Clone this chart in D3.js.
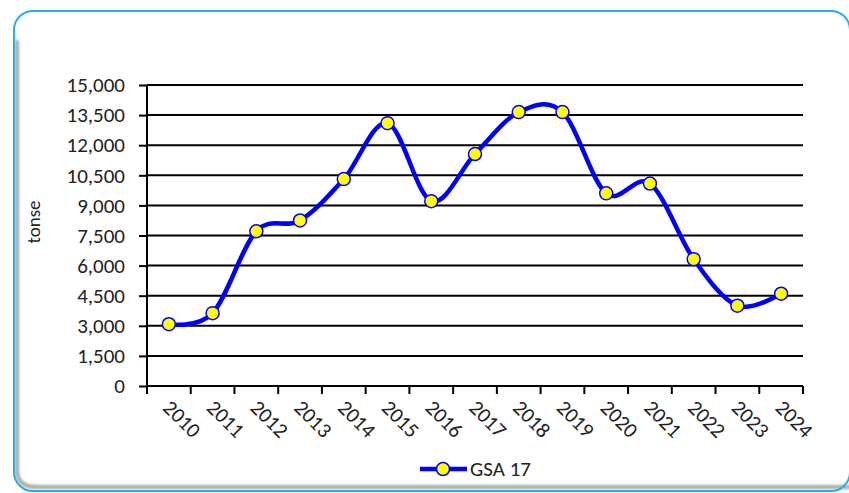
<!DOCTYPE html>
<html>
<head>
<meta charset="utf-8">
<script src="https://cdn.jsdelivr.net/npm/d3@7"></script>
<style>
  html, body { margin: 0; padding: 0; background: #fff; }
  svg { display: block; }
  text { font-family: Carlito, Calibri, "Liberation Sans", Arial, sans-serif; fill: #222; }
</style>
</head>
<body>
<div id="chart"></div>
<script>
// chart data
const years = ["2010", "2011", "2012", "2013", "2014", "2015", "2016", "2017",
    "2018", "2019", "2020", "2021", "2022", "2023", "2024"];
const gsa17 = [3080, 3630, 7710, 8250, 10310, 13100, 9210, 11560,
    13650, 13650, 9600, 10090, 6320, 4000, 4600];
const yTicks = [0, 1500, 3000, 4500, 6000, 7500, 9000, 10500, 12000, 13500, 15000];
const seriesName = "GSA 17";
const yTitle = "tonse";

const W = 849, H = 493;
const plot = { left: 147, right: 803, top: 85, bottom: 386 };

const svg = d3.select("#chart").append("svg")
    .attr("width", W)
    .attr("height", H);

// inner shadow blur for the frame
const defs = svg.append("defs");
defs.append("filter").attr("id", "blur")
    .attr("x", "-10%").attr("y", "-10%").attr("width", "120%").attr("height", "120%")
    .append("feGaussianBlur").attr("stdDeviation", 1.6);

// frame: gray inner shadow on left + bottom, then blue rounded border
svg.append("path")
    .attr("d", "M17,40 L17,470 Q17,487 36,487 L852,487")
    .attr("fill", "none")
    .attr("stroke", "#9a9a9a")
    .attr("stroke-width", 3.5)
    .attr("filter", "url(#blur)");

svg.append("rect")
    .attr("x", 14).attr("y", 11)
    .attr("width", 836).attr("height", 480)
    .attr("rx", 19).attr("ry", 19)
    .attr("fill", "none")
    .attr("stroke", "#27aee6")
    .attr("stroke-width", 2);

// scales
const x = d3.scaleBand()
    .domain(years)
    .range([plot.left, plot.right])
    .paddingInner(0).paddingOuter(0);

const y = d3.scaleLinear()
    .domain([0, 15000])
    .range([plot.bottom, plot.top]);

const cx = d => x(d) + x.bandwidth() / 2;

// horizontal gridlines
svg.append("g")
    .selectAll("line")
    .data(yTicks.filter(v => v > 0))
    .join("line")
    .attr("x1", plot.left).attr("x2", plot.right)
    .attr("y1", d => y(d)).attr("y2", d => y(d))
    .attr("stroke", "#000")
    .attr("stroke-width", 2);

// y axis
const yAxis = svg.append("g")
    .attr("transform", "translate(" + plot.left + ",0)")
    .call(d3.axisLeft(y)
        .tickValues(yTicks)
        .tickFormat(d3.format(","))
        .tickSize(8)
        .tickPadding(14));
yAxis.select(".domain")
    .attr("stroke", "#000").attr("stroke-width", 2)
    .attr("d", "M0," + plot.bottom + "V" + plot.top);
yAxis.selectAll(".tick line").attr("stroke", "#000").attr("stroke-width", 2);
yAxis.selectAll(".tick text")
    .attr("font-size", 21)
    .attr("fill", "#222")
    .style("font-family", "Carlito, Calibri, 'Liberation Sans', Arial, sans-serif");

// x axis: line + ticks at category boundaries
const xg = svg.append("g");
xg.append("line")
    .attr("x1", plot.left).attr("x2", plot.right)
    .attr("y1", plot.bottom).attr("y2", plot.bottom)
    .attr("stroke", "#000").attr("stroke-width", 2);

const bounds = years.map(d => x(d)).concat([x(years[years.length - 1]) + x.bandwidth()]);
xg.selectAll("line.tick")
    .data(bounds)
    .join("line")
    .attr("class", "tick")
    .attr("x1", d => d).attr("x2", d => d)
    .attr("y1", plot.bottom).attr("y2", plot.bottom + 8)
    .attr("stroke", "#000").attr("stroke-width", 2);

xg.selectAll("text")
    .data(years)
    .join("text")
    .attr("transform", d => "translate(" + (cx(d) - 7) + "," + (plot.bottom + 23) + ") rotate(45)")
    .attr("text-anchor", "start")
    .attr("font-size", 21)
    .text(d => d);

// y axis title
svg.append("text")
    .attr("transform", "translate(40,222) rotate(-90)")
    .attr("text-anchor", "middle")
    .attr("font-size", 19)
    .text(yTitle);

// the series line
const line = d3.line()
    .x((d, i) => cx(years[i]))
    .y(d => y(d))
    .curve(d3.curveCatmullRom.alpha(0));

svg.append("path")
    .datum(gsa17)
    .attr("d", line)
    .attr("fill", "none")
    .attr("stroke", "#0000ff")
    .attr("stroke-width", 4.5)
    .attr("stroke-linejoin", "round");

svg.append("g")
    .selectAll("circle")
    .data(gsa17)
    .join("circle")
    .attr("cx", (d, i) => cx(years[i]))
    .attr("cy", d => y(d))
    .attr("r", 6.5)
    .attr("fill", "#ffff00")
    .attr("stroke", "#0000ff")
    .attr("stroke-width", 1.5);

// legend
const lg = svg.append("g").attr("transform", "translate(420,469)");
lg.append("line")
    .attr("x1", 0).attr("x2", 47)
    .attr("y1", 0).attr("y2", 0)
    .attr("stroke", "#0000ff").attr("stroke-width", 4.5);
lg.append("circle")
    .attr("cx", 23).attr("cy", 0).attr("r", 6.5)
    .attr("fill", "#ffff00")
    .attr("stroke", "#0000ff").attr("stroke-width", 1.5);
lg.append("text")
    .attr("x", 50).attr("y", 0).attr("dy", "0.35em")
    .attr("font-size", 21)
    .text(seriesName);
</script>
</body>
</html>
